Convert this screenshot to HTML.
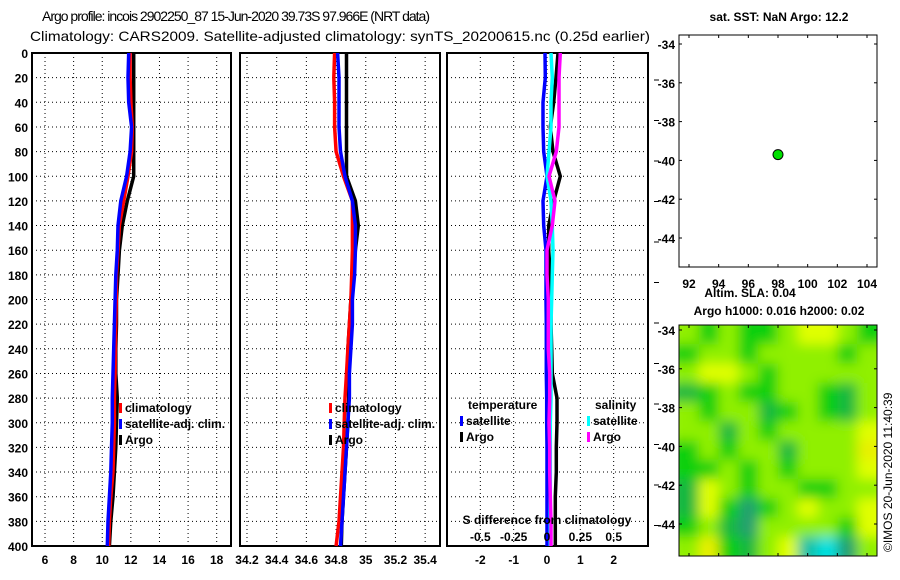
<!DOCTYPE html>
<html><head><meta charset="utf-8"><style>
html,body{margin:0;padding:0;background:#fff;}
svg{display:block;font-family:"Liberation Sans",sans-serif;}
.t{font-size:12px;font-weight:bold;fill:#000;}
.hd{font-size:14px;fill:#000;}
</style></head><body>
<svg id="fig" width="900" height="580" viewBox="0 0 900 580" xmlns="http://www.w3.org/2000/svg">
<text class="hd" x="42" y="21" textLength="388" lengthAdjust="spacing">Argo profile: incois 2902250_87 15-Jun-2020 39.73S 97.966E (NRT data)</text>
<text class="hd" x="30" y="41" textLength="620" lengthAdjust="spacingAndGlyphs">Climatology: CARS2009. Satellite-adjusted climatology: synTS_20200615.nc (0.25d earlier)</text>
<g id="p1"></g>
<g id="p2"></g>
<g id="p3"></g>
<g id="m1"></g>
<g id="m2"></g>
<text class="t" x="779" y="21" text-anchor="middle">sat. SST: NaN Argo: 12.2</text>
<text class="t" x="750" y="297" text-anchor="middle">Altim. SLA: 0.04</text>
<text class="t" x="779" y="315" text-anchor="middle">Argo h1000: 0.016 h2000: 0.02</text>
<text x="892" y="552" font-size="12" transform="rotate(-90 892 552)">©IMOS 20-Jun-2020 11:40:39</text>
</svg>
<script>
const depths=[0,20,40,60,80,100,120,140,160,180,200,220,240,260,280,300,320,340,360,380,400];
const tempClim=[11.95,11.95,12.0,12.1,12.05,11.8,11.5,11.2,11.1,11.0,10.98,10.95,10.92,10.9,10.85,10.85,10.8,10.75,10.6,10.5,10.45];
const tempSat=[11.85,11.8,11.85,12.05,11.95,11.7,11.3,11.1,11.05,10.95,10.9,10.85,10.8,10.75,10.7,10.7,10.65,10.6,10.5,10.4,10.35];
const tempArgo=[12.2,12.2,12.2,12.2,12.2,12.2,11.75,11.4,11.2,11.1,11.0,11.0,10.95,10.95,11.05,11.0,10.95,10.85,10.75,10.6,10.5];
const salClim=[34.79,34.785,34.79,34.79,34.80,34.85,34.91,34.91,34.91,34.905,34.90,34.89,34.88,34.87,34.86,34.855,34.85,34.84,34.83,34.82,34.80];
const salSat=[34.81,34.82,34.82,34.82,34.83,34.86,34.91,34.93,34.93,34.925,34.91,34.91,34.90,34.89,34.89,34.88,34.87,34.86,34.85,34.84,34.83];
const salArgo=[34.87,34.87,34.87,34.87,34.87,34.87,34.93,34.95,34.93,34.915,34.90,34.89,34.88,34.875,34.885,34.88,34.87,34.86,34.85,34.84,34.835];
const dTempSat=[-0.06,-0.05,-0.12,-0.12,-0.1,0.0,-0.12,-0.1,-0.03,-0.03,-0.03,-0.02,-0.02,-0.02,-0.01,-0.01,0.0,0.0,0.0,0.0,0.0];
const dTempArgo=[0.33,0.27,0.2,0.1,0.18,0.4,0.2,0.05,0.05,0.1,0.12,0.12,0.14,0.16,0.3,0.3,0.28,0.28,0.25,0.25,0.25];
const dSalArgo=[0.1,0.09,0.09,0.09,0.07,0.015,0.06,0.04,0.0,0.0,0.01,0.01,0.01,0.02,0.02,0.015,0.02,0.02,0.025,0.03,0.03];
const dSalSat=[0.03,0.04,0.03,0.03,0.015,0.0,0.03,0.04,0.045,0.04,0.035,0.03,0.03,0.03,0.03,0.025,0.025,0.025,0.025,0.025,0.025];
const depthTicks=[0,20,40,60,80,100,120,140,160,180,200,220,240,260,280,300,320,340,360,380,400];
const tempTicks=[6,8,10,12,14,16,18];
const salTicks=[34.2,34.4,34.6,34.8,35,35.2,35.4];
const diffTicks=[-2,-1,0,1,2];
const salDiffTicks=["-0.5","-0.25","0","0.25","0.5"];
const lonTicks=[92,94,96,98,100,102,104];
const latTicks=[-34,-36,-38,-40,-42,-44];
const argoLon=[98.0], argoLat=[-39.7];
const slaGrid=[
[3,2,3,2,2,3,4,4,3,2],
[2,3,3,2,3,3,3,3,2,3],
[3,4,4,3,2,3,3,3,3,3],
[1.5,2,3,2,2,3,3,2,1.5,3],
[3,2,3,3,1.5,2,3,2,1.5,3],
[3,3,1.5,3,2,3,3,3,3,4],
[2,3,2,3,3,1.5,3,3,3,4.5],
[2,2,3,2,3,2,3,3,3,4],
[1.5,4,3,2,3,3,2,2,3,3],
[1.5,4,2,1,2,3,4,3,3,4],
[2,3,1.5,1,3,3,3,3,2,4],
[3,4.5,2,1.5,3,4,0.5,0,1,3]];
const NS='http://www.w3.org/2000/svg';
function mk(parent,tag,attrs,txt){const e=document.createElementNS(NS,tag);for(const k in attrs)e.setAttribute(k,attrs[k]);if(txt!==undefined)e.textContent=txt;parent.appendChild(e);return e;}
const yTop=53,yBot=546;
const yD=d=>yTop+(d/400)*(yBot-yTop);
function panel(g,x0,x1,xmin,xmax,ticks,labels,showY){
  const xs=v=>x0+(v-xmin)/(xmax-xmin)*(x1-x0);
  ticks.forEach((t,i)=>{const x=xs(t);
    const l=mk(g,'line',{x1:x,x2:x,y1:yTop,y2:yBot,stroke:'#000','stroke-width':1,'stroke-dasharray':'1,3'});
    
    
    const tl=mk(g,'text',{x:x,y:564,'text-anchor':'middle',class:'t'},labels?labels[i]:String(t));
    
    
  });
  depthTicks.forEach(d=>{const y=yD(d);
    if(d>0&&d<400){const l=mk(g,'line',{x1:x0,x2:x1,y1:y,y2:y,stroke:'#000','stroke-width':1,'stroke-dasharray':'1,3'});
      
      }
    if(showY){const tl=mk(g,'text',{x:28,y:y+5,'text-anchor':'end',class:'t'},String(d));
      
      }
  });
  const r=mk(g,'rect',{x:x0,y:yTop,width:x1-x0,height:yBot-yTop,fill:'none',stroke:'#000','stroke-width':2});
  
  
  return xs;
}
function prof(g,xs,vals,color,name){
  let d='';vals.forEach((v,i)=>{d+=(i?'L':'M')+xs(v).toFixed(1)+' '+yD(depths[i]).toFixed(1);});
  const p=mk(g,'path',{d:d,fill:'none',stroke:color,'stroke-width':3.5,'stroke-linejoin':'miter'});
  
  
}
function legend(g,x,y,items){
  items.forEach((it,i)=>{const yy=y+i*16;
    const m=mk(g,'rect',{x:x,y:yy-9,width:3,height:10,fill:it[1]});
    
    
    const t=mk(g,'text',{x:x+6,y:yy,class:'t'},it[0]);
    
    
  });
}
const p1=document.getElementById('p1'),p2=document.getElementById('p2'),p3=document.getElementById('p3');
const xs1=panel(p1,32,231,5.09,19.0,tempTicks,null,true);
prof(p1,xs1,tempArgo,'#000','temp-argo-line');
prof(p1,xs1,tempClim,'#f00','temp-climatology-line');
prof(p1,xs1,tempSat,'#00f','temp-satellite-line');
legend(p1,119,412,[['climatology','#f00'],['satellite-adj. clim.','#00f'],['Argo','#000']]);
const xs2=panel(p2,240,440,34.153,35.50,salTicks,null,false);
prof(p2,xs2,salArgo,'#000','sal-argo-line');
prof(p2,xs2,salClim,'#f00','sal-climatology-line');
prof(p2,xs2,salSat,'#00f','sal-satellite-line');
legend(p2,329,412,[['climatology','#f00'],['satellite-adj. clim.','#00f'],['Argo','#000']]);
const xs3=panel(p3,447,648,-3,3.03,diffTicks,null,false);
const xs3s=v=>xs3(v*4);
prof(p3,xs3,dTempSat,'#00f','temp-diff-satellite-line');
prof(p3,xs3,dTempArgo,'#000','temp-diff-argo-line');
prof(p3,xs3s,dSalSat,'#0ff','sal-diff-satellite-line');
prof(p3,xs3s,dSalArgo,'#f0f','sal-diff-argo-line');
let t=mk(p3,'text',{x:468,y:409,class:'t'},'temperature');
t=mk(p3,'text',{x:595,y:409,class:'t'},'salinity');
legend(p3,460,425,[['satellite','#00f'],['Argo','#000']]);
legend(p3,587,425,[['satellite','#0ff'],['Argo','#f0f']]);
t=mk(p3,'text',{x:547,y:524,'text-anchor':'middle',class:'t'},'S difference from climatology');
salDiffTicks.forEach(s=>{const tl=mk(p3,'text',{x:xs3s(parseFloat(s)),y:541,'text-anchor':'middle',class:'t'},s);
  
  });
for(let i=0;i<12;i++){const y=80+i*40.5;const l=mk(p3,'line',{x1:654,x2:659,y1:y,y2:y,stroke:'#000','stroke-width':1});
  
  }
function map(g,y0,y1,lat0){
  const x0=679,x1=877;
  const lx=v=>689+(v-92)*(178/12);
  const ly=v=>lat0+(-34-v)*19.4;
  const r=mk(g,'rect',{x:x0,y:y0,width:x1-x0,height:y1-y0,fill:'none',stroke:'#000','stroke-width':1});
  
  
  lonTicks.forEach(v=>{const x=lx(v);
    mk(g,'line',{x1:x,x2:x,y1:y0,y2:y0+3,stroke:'#000'});
    mk(g,'line',{x1:x,x2:x,y1:y1-3,y2:y1,stroke:'#000'});});
  latTicks.forEach(v=>{const y=ly(v);
    mk(g,'line',{x1:x0,x2:x0+3,y1:y,y2:y,stroke:'#000'});
    mk(g,'line',{x1:x1-3,x2:x1,y1:y,y2:y,stroke:'#000'});
    const tl=mk(g,'text',{x:675,y:y+5,'text-anchor':'end',class:'t'},String(v));
    
    });
  return [lx,ly];
}
const m1=document.getElementById('m1'),m2=document.getElementById('m2');
const ll1=map(m1,35,267,44);
const lx1=ll1[0],ly1=ll1[1];
lonTicks.forEach(v=>{const tl=mk(m1,'text',{x:lx1(v),y:288,'text-anchor':'middle',class:'t'},String(v));
  
  });
argoLon.forEach((v,i)=>{const c=mk(m1,'circle',{cx:lx1(v),cy:ly1(argoLat[i]),r:5,fill:'#00e000',stroke:'#000','stroke-width':1});
  
  });
const defs=mk(m2,'defs',{});
const f=mk(defs,'filter',{id:'bl',x:'-10%',y:'-10%',width:'120%',height:'120%'});
mk(f,'feGaussianBlur',{stdDeviation:6});
const cp=mk(defs,'clipPath',{id:'cl'});
mk(cp,'rect',{x:679,y:325,width:198,height:231});
const cols=['#00e0e0','#20a070','#10d010','#90f000','#e0ff00','#f0e000'];
function col(v){const i=Math.max(0,Math.min(4.999,v));const a=Math.floor(i),tt=i-a;
  const h=s=>[parseInt(s.substr(1,2),16),parseInt(s.substr(3,2),16),parseInt(s.substr(5,2),16)];
  const c1=h(cols[a]),c2=h(cols[a+1]);return 'rgb('+c1.map((c,k)=>Math.round(c+(c2[k]-c)*tt)).join(',')+')';}
const hg=mk(m2,'g',{'clip-path':'url(#cl)'});
const hb=mk(hg,'g',{filter:'url(#bl)'});
const cw=198/10,ch=231/12;
slaGrid.forEach((row,r)=>row.forEach((v,c)=>{
  const cell=mk(hb,'rect',{x:679+c*cw-(c==0?10:0),y:325+r*ch-(r==0?10:0),width:cw+(c==0||c==9?10.5:0.5),height:ch+(r==0||r==11?10.5:0.5),fill:col(v)});
  
  
}));
map(m2,325,556,330);
</script>
</body></html>
